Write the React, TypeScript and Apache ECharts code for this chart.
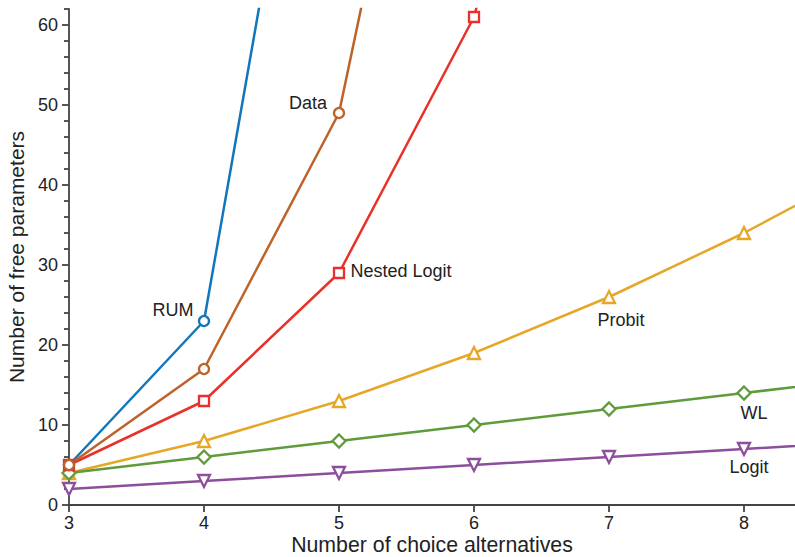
import React, { useEffect, useRef } from "react";
import * as echarts from "echarts";

const alternatives = [3, 4, 5, 6, 7, 8, 9];
const rumValues = [5, 23, 119];
const dataValues = [5, 17, 49, 129];
const nestedLogitValues = [5, 13, 29, 61, 125];
const probitValues = [4, 8, 13, 19, 26, 34, 43];
const wlValues = [4, 6, 8, 10, 12, 14, 16];
const logitValues = [2, 3, 4, 5, 6, 7, 8];

const xTicks = [3, 4, 5, 6, 7, 8];
const yMajorTicks = [0, 10, 20, 30, 40, 50, 60];
const yMinorTicks = [2, 4, 6, 8, 12, 14, 16, 18, 22, 24, 26, 28, 32, 34, 36, 38, 42, 44, 46, 48, 52, 54, 56, 58, 62];

const FONT = '"Liberation Sans", Arial, Helvetica, sans-serif';

type SeriesSpec = {
  name: string;
  values: number[];
  color: string;
  symbol: string;
  size: number;
  rotate?: number;
  labelIndex: number;
  labelOffset: [number, number];
};

const specs: SeriesSpec[] = [
  { name: "Logit", values: logitValues, color: "#8D4E9B", symbol: "triangle", size: 12, rotate: 180, labelIndex: 5, labelOffset: [5, 18] },
  { name: "Probit", values: probitValues, color: "#E6A727", symbol: "triangle", size: 12, labelIndex: 4, labelOffset: [12, 23] },
  { name: "WL", values: wlValues, color: "#5F9B3B", symbol: "diamond", size: 13, labelIndex: 5, labelOffset: [10, 20] },
  { name: "Nested Logit", values: nestedLogitValues, color: "#EA3129", symbol: "rect", size: 10, labelIndex: 2, labelOffset: [62, -2] },
  { name: "RUM", values: rumValues, color: "#1177BA", symbol: "circle", size: 10, labelIndex: 1, labelOffset: [-31, -11] },
  { name: "Data", values: dataValues, color: "#BF6228", symbol: "circle", size: 10, labelIndex: 2, labelOffset: [-31, -10] },
];

export default function App() {
  const ref = useRef<HTMLDivElement>(null);
  useEffect(() => {
    if (!ref.current) return;
    const chart = echarts.init(ref.current, undefined, { renderer: "svg" });
    const series = specs.map((s) => ({
      type: "line",
      name: s.name,
      clip: true,
      symbol: s.symbol,
      symbolSize: s.size,
      symbolRotate: s.rotate ?? 0,
      showAllSymbol: true,
      lineStyle: { color: s.color, width: 2.5 },
      itemStyle: { color: "#ffffff", borderColor: s.color, borderWidth: 2.3 },
      emphasis: { disabled: true },
      data: s.values.map((v, i) => {
        const item: any = { value: [alternatives[i], v] };
        if (i === s.labelIndex) {
          item.label = {
            show: true,
            position: "inside",
            offset: s.labelOffset,
            formatter: s.name,
            color: "#222",
            fontSize: 18,
            fontFamily: FONT,
          };
        }
        return item;
      }),
    }));
    chart.setOption({
      animation: false,
      backgroundColor: "#ffffff",
      grid: { left: 69, right: 0, top: 9, bottom: 52, containLabel: false, outerBoundsMode: "none" },
      xAxis: {
        type: "value",
        min: 3,
        max: 3 + 726 / 135,
        name: "Number of choice alternatives",
        nameLocation: "middle",
        nameGap: 29,
        nameMoveOverlap: false,
        nameTextStyle: { fontSize: 21.3, lineHeight: 22, color: "#222", fontFamily: FONT },
        splitLine: { show: false },
        axisLine: { lineStyle: { color: "#444", width: 1.8 } },
        axisTick: { length: 7, lineStyle: { color: "#444", width: 1.8 }, customValues: xTicks },
        axisLabel: { customValues: xTicks, fontSize: 18, color: "#222", fontFamily: FONT, margin: 9 },
      },
      yAxis: [
        {
          type: "value",
          min: 0,
          max: 62,
          name: "Number of free parameters",
          nameLocation: "middle",
          nameGap: 42,
          nameTextStyle: { fontSize: 21, color: "#222", fontFamily: FONT },
          splitLine: { show: false },
          axisLine: { lineStyle: { color: "#444", width: 1.8 } },
          axisTick: { length: 7, lineStyle: { color: "#444", width: 1.8 }, customValues: yMajorTicks },
          axisLabel: { customValues: yMajorTicks, fontSize: 18, color: "#222", fontFamily: FONT, margin: 11 },
        },
        {
          type: "value",
          min: 0,
          max: 62,
          position: "left",
          offset: 0,
          splitLine: { show: false },
          axisLine: { show: false },
          axisTick: { length: 5, lineStyle: { color: "#444", width: 1.8 }, customValues: yMinorTicks },
          axisLabel: { show: false },
        },
      ],
      series,
    });
    return () => chart.dispose();
  }, []);
  return <div ref={ref} style={{ position: "fixed", left: 0, top: 0, width: 795, height: 557 }} />;
}
